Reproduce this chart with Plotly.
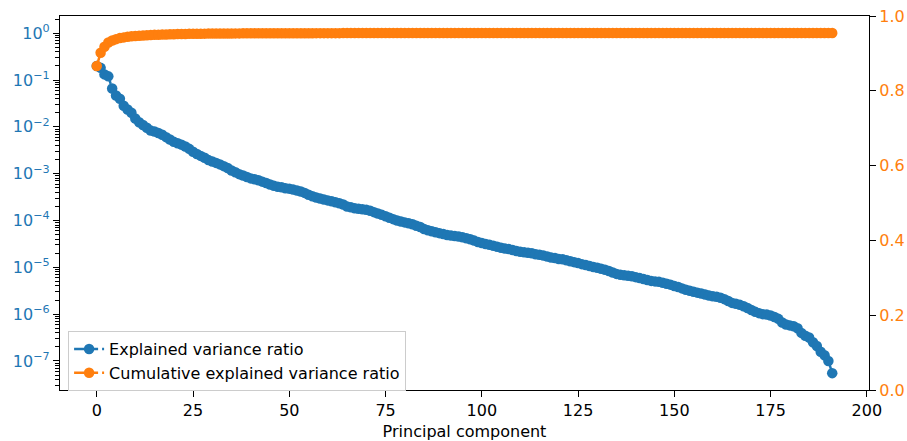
import numpy as np
import plotly.graph_objects as go

# Explained variance ratio of each principal component (index 0..191)
explained_variance_ratio = [
    2.00e-1, 1.82e-1, 1.32e-1, 1.20e-1, 6.61e-2, 4.68e-2, 3.98e-2, 2.82e-2, 2.34e-2, 2.00e-2,
    1.51e-2, 1.26e-2, 1.10e-2, 9.55e-3, 8.32e-3, 7.94e-3, 7.41e-3, 6.76e-3, 6.03e-3, 5.37e-3,
    4.79e-3, 4.47e-3, 4.17e-3, 3.80e-3, 3.39e-3, 2.95e-3, 2.63e-3, 2.40e-3, 2.19e-3, 1.95e-3,
    1.82e-3, 1.70e-3, 1.58e-3, 1.45e-3, 1.32e-3, 1.17e-3, 1.07e-3, 9.77e-4, 9.12e-4, 8.51e-4,
    7.94e-4, 7.59e-4, 7.24e-4, 6.76e-4, 6.31e-4, 5.89e-4, 5.50e-4, 5.25e-4, 5.13e-4, 4.90e-4,
    4.79e-4, 4.57e-4, 4.37e-4, 4.17e-4, 3.89e-4, 3.55e-4, 3.31e-4, 3.09e-4, 2.95e-4, 2.82e-4,
    2.69e-4, 2.57e-4, 2.45e-4, 2.34e-4, 2.19e-4, 2.00e-4, 1.91e-4, 1.82e-4, 1.78e-4, 1.74e-4,
    1.70e-4, 1.62e-4, 1.51e-4, 1.41e-4, 1.32e-4, 1.23e-4, 1.15e-4, 1.07e-4, 1.00e-4, 9.55e-5,
    9.12e-5, 8.71e-5, 8.32e-5, 7.76e-5, 7.24e-5, 6.61e-5, 6.17e-5, 5.89e-5, 5.62e-5, 5.37e-5,
    5.13e-5, 4.90e-5, 4.79e-5, 4.68e-5, 4.57e-5, 4.37e-5, 4.17e-5, 3.98e-5, 3.72e-5, 3.47e-5,
    3.31e-5, 3.16e-5, 3.02e-5, 2.88e-5, 2.75e-5, 2.63e-5, 2.51e-5, 2.45e-5, 2.34e-5, 2.24e-5,
    2.14e-5, 2.09e-5, 2.04e-5, 2.00e-5, 1.91e-5, 1.86e-5, 1.78e-5, 1.70e-5, 1.62e-5, 1.58e-5,
    1.51e-5, 1.48e-5, 1.41e-5, 1.35e-5, 1.29e-5, 1.23e-5, 1.17e-5, 1.12e-5, 1.07e-5, 1.02e-5,
    9.77e-6, 9.33e-6, 8.91e-6, 8.32e-6, 7.76e-6, 7.24e-6, 6.92e-6, 6.76e-6, 6.61e-6, 6.46e-6,
    6.17e-6, 5.89e-6, 5.62e-6, 5.37e-6, 5.13e-6, 5.01e-6, 4.90e-6, 4.68e-6, 4.47e-6, 4.27e-6,
    3.98e-6, 3.80e-6, 3.55e-6, 3.31e-6, 3.16e-6, 3.02e-6, 2.88e-6, 2.75e-6, 2.63e-6, 2.51e-6,
    2.40e-6, 2.34e-6, 2.24e-6, 2.09e-6, 1.91e-6, 1.74e-6, 1.66e-6, 1.58e-6, 1.48e-6, 1.35e-6,
    1.23e-6, 1.12e-6, 1.05e-6, 1.00e-6, 9.77e-7, 9.33e-7, 8.71e-7, 7.94e-7, 6.61e-7, 6.03e-7,
    5.75e-7, 5.50e-7, 5.01e-7, 3.98e-7, 3.47e-7, 3.16e-7, 2.51e-7, 2.09e-7, 1.58e-7, 1.32e-7,
    1.00e-7, 5.50e-8,
]
components = list(range(len(explained_variance_ratio)))
cumulative_ratio = np.cumsum(explained_variance_ratio)

x_ticks = [0, 25, 50, 75, 100, 125, 150, 175, 200]
left_exponents = [0, -1, -2, -3, -4, -5, -6, -7]
right_ticks = [0.0, 0.2, 0.4, 0.6, 0.8, 1.0]

BLUE = "#1f77b4"
ORANGE = "#ff7f0e"
FONT = "DejaVu Sans"
FS = 16

fig = go.Figure()

fig.add_trace(go.Scatter(
    x=components, y=explained_variance_ratio, mode="lines+markers",
    name="Explained variance ratio",
    line=dict(color=BLUE, width=2.5, dash="10px,4px"),
    marker=dict(color=BLUE, size=10.5),
))
fig.add_trace(go.Scatter(
    x=components, y=cumulative_ratio, mode="lines+markers",
    name="Cumulative explained variance ratio",
    line=dict(color=ORANGE, width=2.5, dash="10px,4px"),
    marker=dict(color=ORANGE, size=10.5),
))
# empty trace that carries the secondary (right) axis
fig.add_trace(go.Scatter(x=[], y=[], yaxis="y2", showlegend=False, hoverinfo="skip"))

minor_log = [m * 10.0 ** e for e in range(-8, 1) for m in range(2, 10)]

fig.update_layout(
    width=907, height=441,
    margin=dict(l=60, r=38, t=16, b=51, autoexpand=False),
    paper_bgcolor="white", plot_bgcolor="white",
    font=dict(family=FONT, size=FS, color="black"),
    showlegend=True,
    legend=dict(
        x=0.01, y=-0.003, xanchor="left", yanchor="bottom",
        bgcolor="rgba(255,255,255,0.8)", bordercolor="#cccccc", borderwidth=1,
        font=dict(family=FONT, size=FS), tracegroupgap=0, itemwidth=30,
    ),
    xaxis=dict(
        range=[-9.55, 200.55], tickvals=x_ticks, automargin=False,
        showline=True, linecolor="black", linewidth=1.2, mirror=True,
        ticks="outside", ticklen=6, tickwidth=1.2, tickcolor="black",
        showgrid=False, zeroline=False,
        title=dict(text="Principal component", font=dict(size=FS), standoff=6),
        tickfont=dict(size=FS),
    ),
    yaxis=dict(
        type="log", range=[-7.62, 0.368], automargin=False,
        tickvals=[10.0 ** e for e in left_exponents],
        ticktext=[f"10<sup>{str(e).replace('-', '−')}</sup>" for e in left_exponents],
        tickfont=dict(color=BLUE, size=FS),
        showline=True, linecolor="black", linewidth=1.2,
        ticks="outside", ticklen=6, tickwidth=1.2, tickcolor="black",
        minor=dict(tickvals=minor_log, ticks="outside", ticklen=3.5, tickwidth=1, tickcolor="black", showgrid=False),
        showgrid=False, zeroline=False,
    ),
    yaxis2=dict(
        overlaying="y", side="right", range=[0, 1], automargin=False,
        tickvals=right_ticks, ticktext=[f"{v:.1f}" for v in right_ticks],
        tickfont=dict(color=ORANGE, size=FS),
        showline=True, linecolor="black", linewidth=1.2,
        ticks="outside", ticklen=6, tickwidth=1.2, tickcolor="black",
        showgrid=False, zeroline=False,
    ),
)

fig.write_html("out.html")
